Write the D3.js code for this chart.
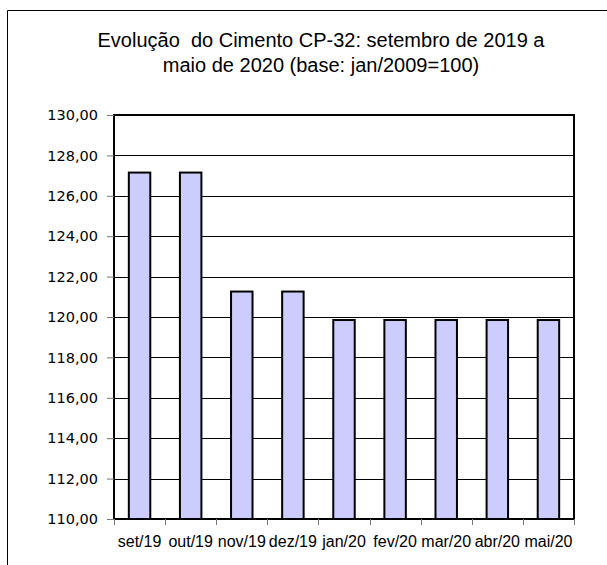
<!DOCTYPE html>
<html><head><meta charset="utf-8">
<script src="https://cdn.jsdelivr.net/npm/d3@7"></script>
<style>body{margin:0;background:#fff}svg{display:block}</style>
</head><body>
<script>
const categories = ["set/19","out/19","nov/19","dez/19","jan/20","fev/20","mar/20","abr/20","mai/20"];
const values = [127.15,127.15,121.26,121.26,119.85,119.85,119.85,119.85,119.85];
const yTicks = [110,112,114,116,118,120,122,124,126,128,130];
const titleLines = ["Evolução  do Cimento CP-32: setembro de 2019 a","maio de 2020 (base: jan/2009=100)"];

const W=607,H=565;
const m={left:114,top:115,right:574,bottom:519};
const svg=d3.select("body").append("svg").attr("width",W).attr("height",H);

// outer frame (left & top visible)
svg.append("path").attr("d",`M7.5,${H+2} L7.5,10.5 L${W+2},10.5`).attr("fill","none").attr("stroke","#000").attr("stroke-width",1);

const x=d3.scaleBand().domain(categories).range([m.left,m.right]).paddingInner(0.58).paddingOuter(0.29);
const xb=d3.scaleBand().domain(categories).range([m.left,m.right]);
const y=d3.scaleLinear().domain([110,130]).range([m.bottom,m.top]);

// gridlines
svg.append("g").selectAll("line").data(yTicks).join("line")
 .attr("x1",m.left).attr("x2",m.right)
 .attr("y1",d=>Math.round(y(d))+0.5).attr("y2",d=>Math.round(y(d))+0.5)
 .attr("stroke","#000").attr("stroke-width",1);

// bars
svg.append("g").selectAll("rect").data(values).join("rect")
 .attr("x",(d,i)=>x(categories[i])).attr("width",x.bandwidth())
 .attr("y",d=>y(d)).attr("height",d=>y(110)-y(d))
 .attr("fill","#ccccff").attr("stroke","#000").attr("stroke-width",2);

// plot border
svg.append("rect").attr("x",m.left).attr("y",m.top).attr("width",m.right-m.left).attr("height",m.bottom-m.top)
 .attr("fill","none").attr("stroke","#000").attr("stroke-width",2);

// y axis
const yAxis=d3.axisLeft(y).tickValues(yTicks).tickSize(7).tickPadding(9)
 .tickFormat(d=>d3.format(".2f")(d).replace(".",","));
const gy=svg.append("g").attr("transform",`translate(${m.left},0)`).call(yAxis);
gy.select(".domain").remove();
gy.selectAll(".tick line").attr("stroke","#777");
gy.selectAll("text").attr("font-family","DejaVu Sans, Verdana, sans-serif").attr("font-size","14.5px").attr("fill","#000");

// x axis ticks at boundaries
const bounds=categories.map(c=>xb(c)).concat([m.right]);
svg.append("g").selectAll("line").data(bounds).join("line")
 .attr("x1",d=>Math.round(d)+0.5).attr("x2",d=>Math.round(d)+0.5)
 .attr("y1",m.bottom).attr("y2",m.bottom+6).attr("stroke","#777");
svg.append("g").selectAll("text").data(categories).join("text")
 .attr("x",d=>xb(d)+xb.bandwidth()/2).attr("y",547)
 .attr("text-anchor","middle").attr("font-family","Liberation Sans, Arial, sans-serif").attr("font-size","16px")
 .text(d=>d);

// title
svg.append("g").selectAll("text").data(titleLines).join("text")
 .attr("x",321).attr("y",(d,i)=>47+i*25).attr("text-anchor","middle")
 .attr("font-family","Liberation Sans, Arial, sans-serif").attr("font-size","20px")
 .style("white-space","pre").attr("xml:space","preserve")
 .text(d=>d);
</script>
</body></html>
